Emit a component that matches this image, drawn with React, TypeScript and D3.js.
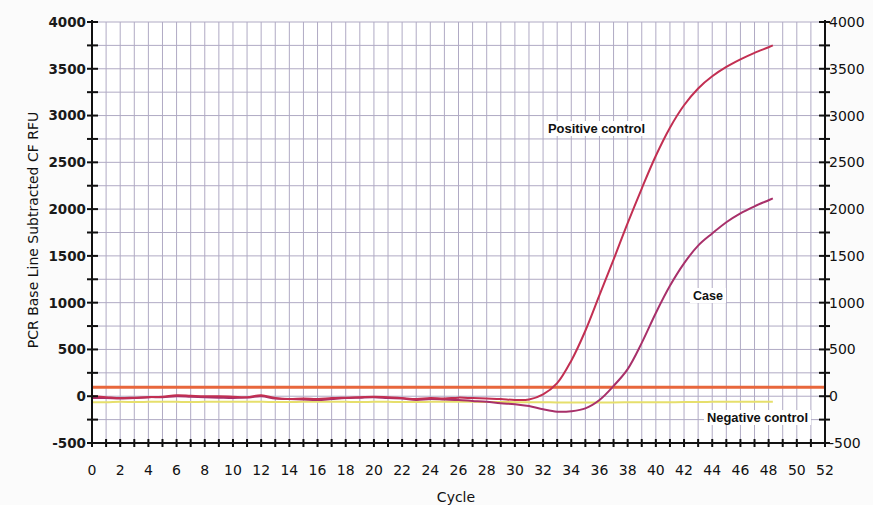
import React from "react";
import * as d3 from "d3";

// cycles (last point is where the traces stop)
const cycles = [
  0, 1, 2, 3, 4, 5, 6, 7, 8, 9, 10, 11, 12, 13, 14, 15, 16, 17, 18, 19, 20, 21, 22, 23, 24,
  25, 26, 27, 28, 29, 30, 31, 32, 33, 34, 35, 36, 37, 38, 39, 40, 41, 42, 43, 44, 45, 46, 47,
  48, 48.3,
];

const positiveControl = [
  0, -10, -20, -15, -10, -5, 10, 5, 0, 0, -5, -10, 10, -20, -30, -25, -30, -20, -15, -10, -5,
  -10, -20, -30, -20, -25, -15, -20, -25, -30, -40, -35, 20, 140, 380, 700, 1080, 1460, 1850,
  2220, 2570, 2870, 3110, 3290, 3420, 3520, 3600, 3670, 3730, 3750,
];

const caseSample = [
  -20, -20, -25, -20, -10, -10, 0, -5, -10, -15, -20, -15, 0, -25, -30, -35, -40, -30, -20,
  -15, -10, -20, -25, -40, -30, -35, -40, -50, -60, -75, -85, -105, -140, -165, -160, -130, -40,
  110, 290, 570, 890, 1180, 1420, 1610, 1740, 1860, 1955, 2030, 2095, 2115,
];

const negativeControl = [
  -65, -65, -60, -62, -60, -58, -60, -62, -60, -60, -58, -60, -60, -62, -62, -60, -60, -58,
  -60, -62, -60, -60, -62, -62, -60, -60, -58, -60, -62, -62, -64, -65, -65, -66, -66, -66,
  -66, -66, -65, -65, -64, -64, -62, -62, -60, -60, -60, -60, -60, -60,
];

const threshold = 95;

const xTicks = d3.range(0, 53, 2);
const yTicks = d3.range(-500, 4001, 500);

const W = 873;
const H = 505;
const m = { left: 92, right: 825, top: 22, bottom: 443 };

const App: React.FC = () => {
  const x = d3.scaleLinear().domain([0, 52]).range([m.left, m.right]);
  const y = d3.scaleLinear().domain([-500, 4000]).range([m.bottom, m.top]);

  const line = (vals: number[]) =>
    d3
      .line<number>()
      .x((_, i) => x(cycles[i]))
      .y((d) => y(d))
      .curve(d3.curveCatmullRom.alpha(0.5))(vals) || "";

  const gridX = d3.range(1, 52);
  const gridY = d3.range(-250, 4001, 250);
  const tickY = d3.range(-500, 4001, 250);
  const tickX = d3.range(0, 53);

  const font = "'DejaVu Sans', Verdana, sans-serif";
  const labelFont = "'Liberation Sans', Arial, sans-serif";

  const labels = [
    { text: "Positive control", x: 548, y: 133, w: 97 },
    { text: "Case", x: 693, y: 300, w: 30 },
    { text: "Negative control", x: 707, y: 422, w: 101 },
  ];

  return (
    <svg
      width={W}
      height={H}
      style={{ position: "absolute", left: 0, top: 0, background: "#fbfbfb" }}
    >
      <rect x={m.left} y={m.top} width={m.right - m.left} height={m.bottom - m.top} fill="#fff" />
      {/* grid */}
      <g stroke="#b0aac4" strokeWidth={1}>
        {gridX.map((c) => (
          <line key={"gx" + c} x1={x(c)} x2={x(c)} y1={m.top} y2={m.bottom} />
        ))}
        {gridY.map((v) => (
          <line key={"gy" + v} x1={m.left} x2={m.right} y1={y(v)} y2={y(v)} />
        ))}
      </g>

      {/* threshold */}
      <line
        x1={m.left}
        x2={m.right}
        y1={y(threshold)}
        y2={y(threshold)}
        stroke="#e8673c"
        strokeWidth={3}
      />

      {/* traces */}
      <path d={line(negativeControl)} fill="none" stroke="#e6df6c" strokeWidth={2} />
      <path d={line(caseSample)} fill="none" stroke="#a8306a" strokeWidth={2} />
      <path d={line(positiveControl)} fill="none" stroke="#c22f52" strokeWidth={2} />

      {/* axes */}
      <g stroke="#111" strokeWidth={2}>
        <line x1={m.left} x2={m.left} y1={m.top - 2} y2={m.bottom} />
        <line x1={m.right} x2={m.right} y1={m.top - 2} y2={m.bottom} />
        <line x1={m.left} x2={m.right} y1={m.bottom} y2={m.bottom} />
        {tickY.map((v) => (
          <g key={"ty" + v}>
            <line x1={m.left - 5} x2={m.left + 6} y1={y(v)} y2={y(v)} />
            <line x1={m.right - 6} x2={m.right + 5} y1={y(v)} y2={y(v)} />
          </g>
        ))}
        {tickX.map((c) => (
          <line key={"tx" + c} x1={x(c)} x2={x(c)} y1={m.bottom - 4} y2={m.bottom + 4} />
        ))}
      </g>

      {/* tick labels */}
      <g fontFamily={font} fontSize={13.5} fontWeight="bold" fill="#1a1a1a">
        {yTicks.map((v) => (
          <text key={"ly" + v} x={m.left - 6} y={y(v)} dy="0.36em" textAnchor="end">
            {v}
          </text>
        ))}
      </g>
      <g fontFamily={font} fontSize={14} fill="#111">
        {yTicks.map((v) => (
          <text key={"ry" + v} x={m.right + 4} y={y(v)} dy="0.36em" textAnchor="start">
            {v}
          </text>
        ))}
        {xTicks.map((c) => (
          <text key={"lx" + c} x={x(c)} y={475} textAnchor="middle">
            {c}
          </text>
        ))}
      </g>

      {/* axis titles */}
      <text
        fontFamily={font}
        fontSize={14}
        fill="#111"
        textAnchor="middle"
        transform={`translate(38, 230) rotate(-90)`}
      >
        PCR Base Line Subtracted CF RFU
      </text>
      <text fontFamily={font} fontSize={14} fill="#111" x={456} y={502} textAnchor="middle">
        Cycle
      </text>

      {/* series labels */}
      {labels.map((l) => (
        <g key={l.text}>
          <rect x={l.x - 3} y={l.y - 12} width={l.w + 6} height={15} fill="#fff" />
          <text
            x={l.x}
            y={l.y}
            fontFamily={labelFont}
            fontWeight="bold"
            fontSize={12.5}
            fill="#111"
            textLength={l.w}
            lengthAdjust="spacingAndGlyphs"
          >
            {l.text}
          </text>
        </g>
      ))}
    </svg>
  );
};

export default App;
